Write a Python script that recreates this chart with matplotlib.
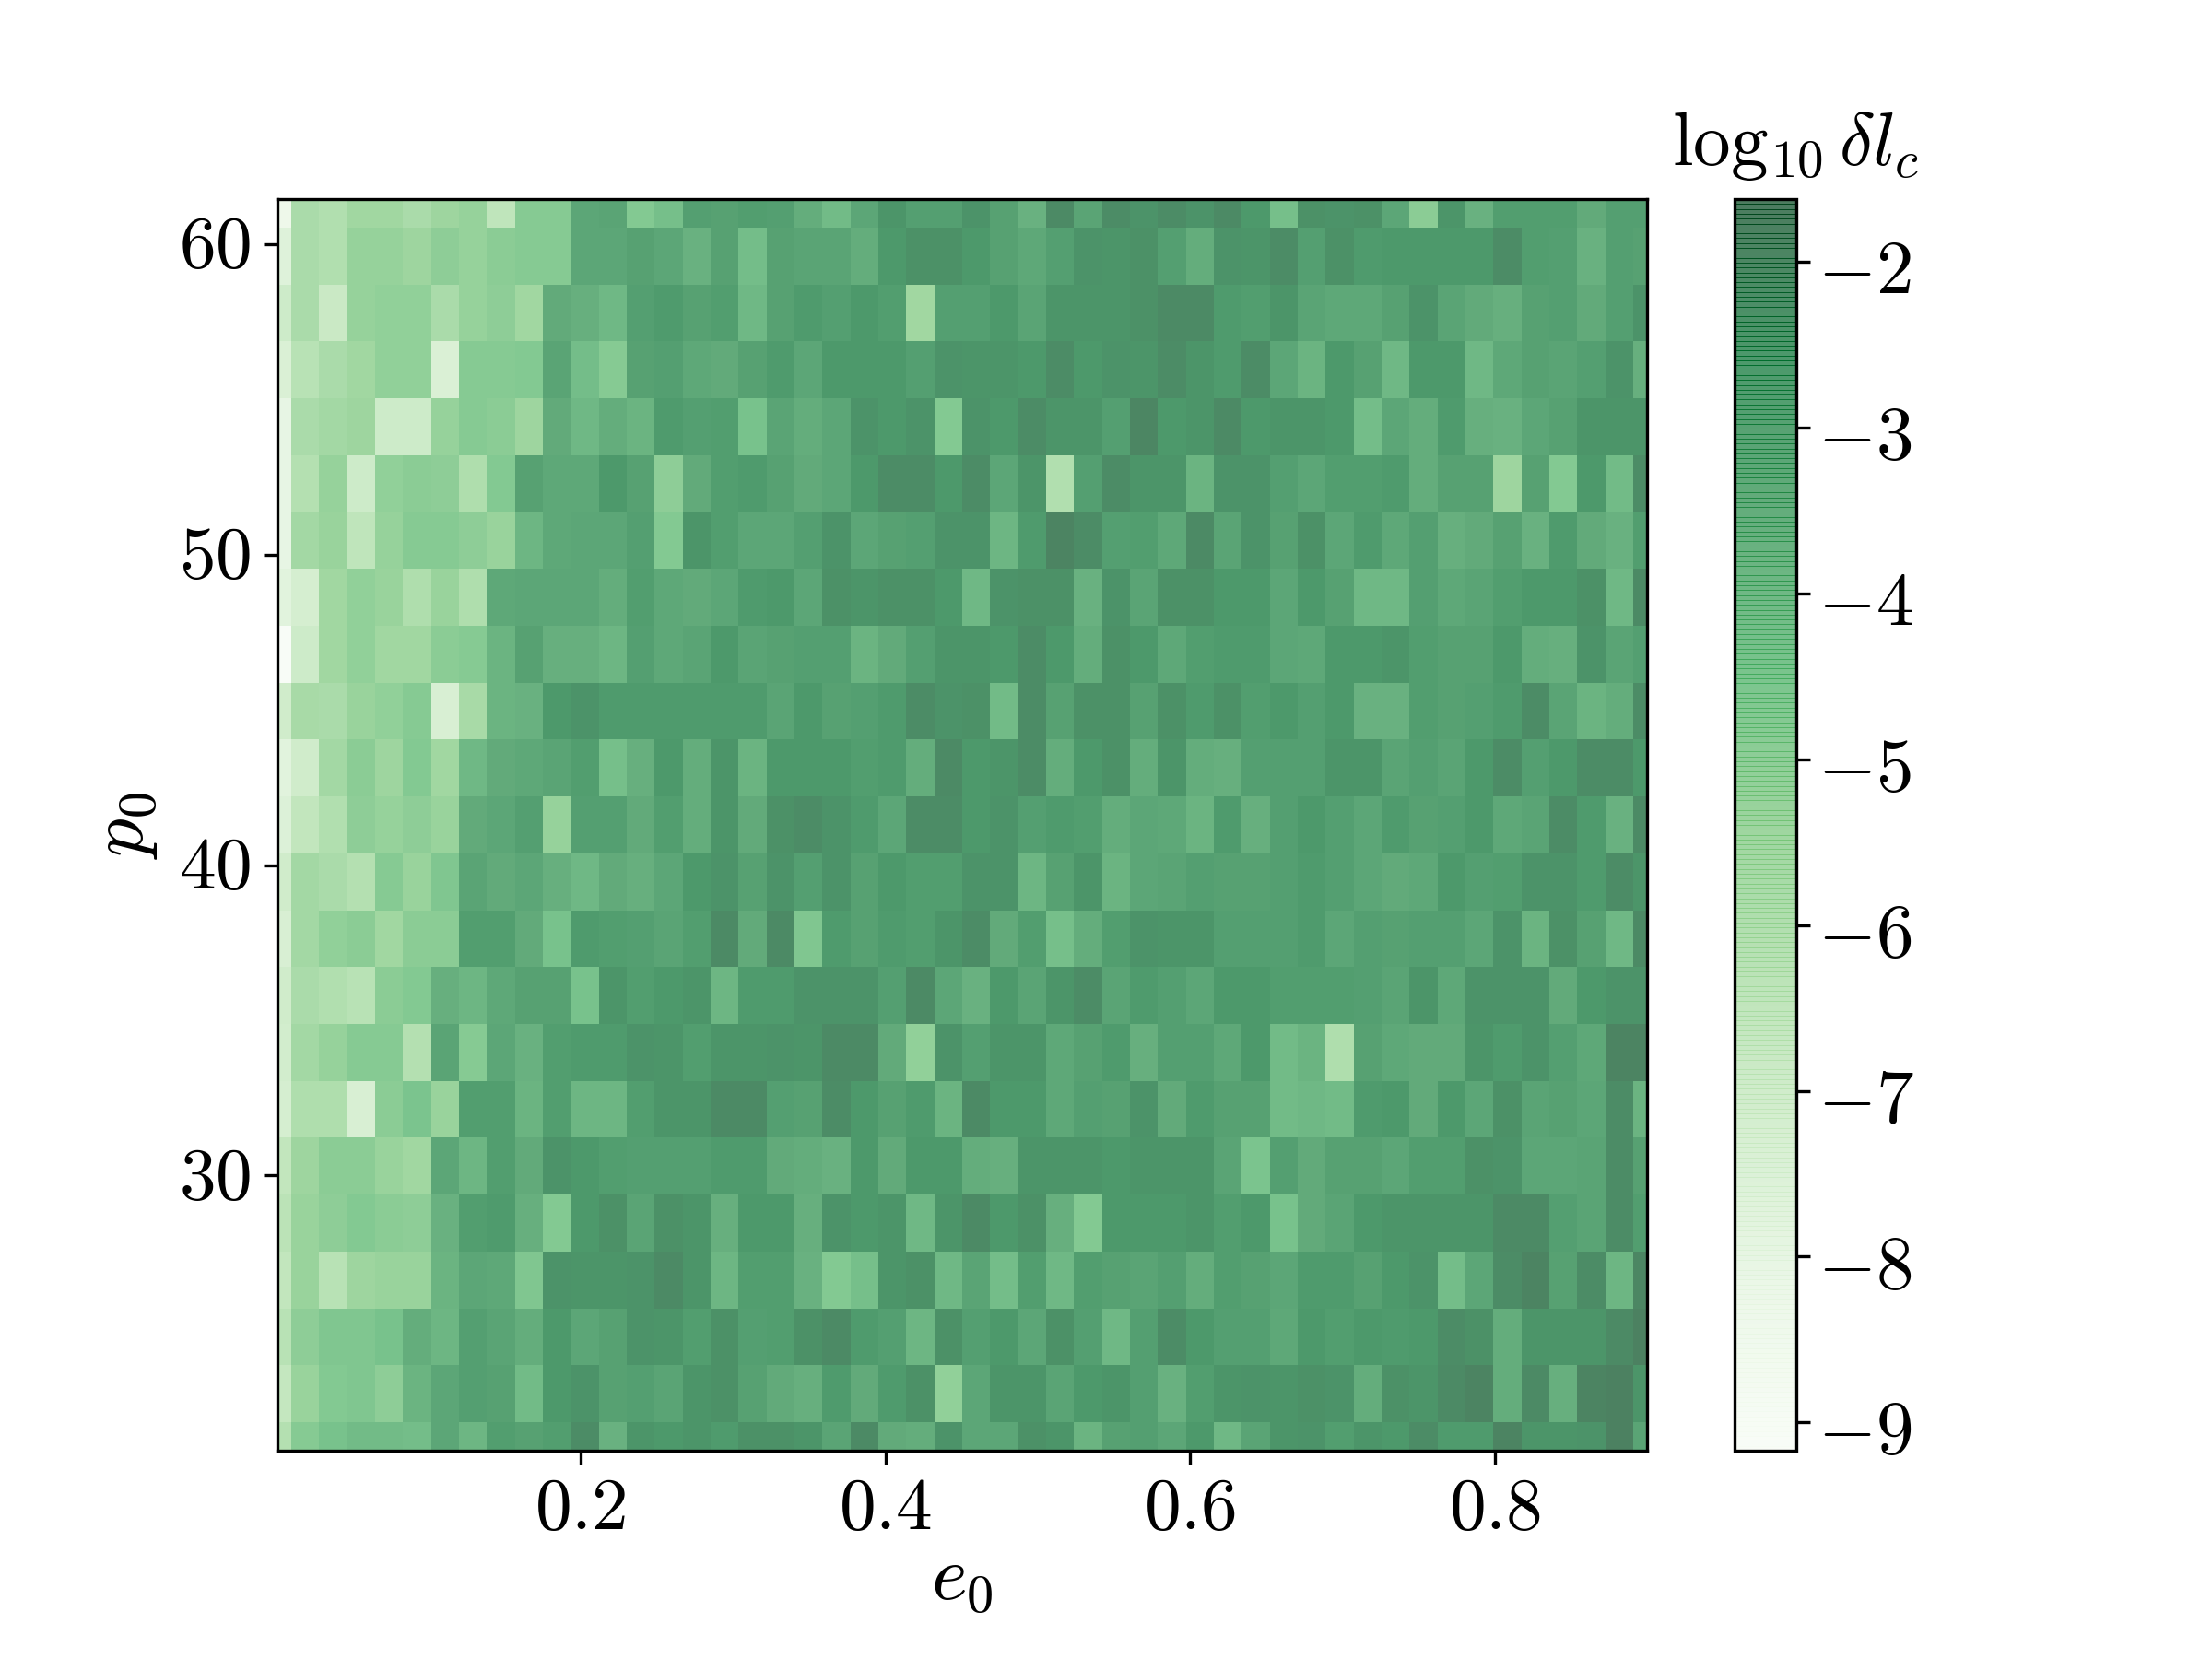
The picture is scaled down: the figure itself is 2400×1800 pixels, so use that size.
import numpy as np
import matplotlib
matplotlib.use("Agg")
import matplotlib.pyplot as plt
from matplotlib.transforms import ScaledTranslation

plt.rcParams['mathtext.fontset'] = 'cm'
plt.rcParams['font.family'] = 'cmr10'
plt.rcParams['axes.unicode_minus'] = False
plt.rcParams['axes.formatter.use_mathtext'] = True

## ejes de la grilla
e0_min, e0_max, n_e0 = 0.001, 0.9, 50
p0_min, p0_max, n_p0 = 21.14, 61.45, 23

e0_ticks = [0.2, 0.4, 0.6, 0.8]
e0_labels = [r"$0.2$", r"$0.4$", r"$0.6$", r"$0.8$"]
p0_ticks = [30, 40, 50, 60]
p0_labels = [r"$30$", r"$40$", r"$50$", r"$60$"]
cb_ticks = [-2, -3, -4, -5, -6, -7, -8, -9]
cb_labels = [r"$-2$", r"$-3$", r"$-4$", r"$-5$", r"$-6$", r"$-7$", r"$-8$", r"$-9$"]

## log10 delta l_c leido fila por fila, de arriba (p0 alto) hacia abajo
row00 = [-8.3,-5.8,-6.0,-5.5,-5.5,-5.8,-5.4,-5.2,-6.4,-4.8,-4.8,-3.2,-3.1,-4.7,-4.3,-2.9,-3.0, -2.8,-2.9,-3.5,-4.1,-3.2,-2.5,-2.9,-2.9,-2.4,-3.0,-3.7,-2.1,-3.1,-2.2,-2.4,-2.2, -2.4,-2.1,-2.6,-4.3,-2.3,-2.4,-2.3,-3.2,-4.9,-2.5,-3.7,-2.8,-2.8,-2.8,-3.4,-2.9,-2.9]
row01 = [-7.6,-5.8,-6.0,-5.2,-5.2,-5.4,-5.0,-5.2,-4.9,-4.8,-4.8,-3.2,-3.2,-3.0,-3.2,-3.7,-3.0, -4.2,-3.0,-3.1,-3.1,-3.5,-2.6,-2.3,-2.3,-2.6,-3.0,-3.3,-2.9,-2.4,-2.5,-2.3,-2.9, -3.5,-2.4,-2.5,-2.2,-2.9,-2.3,-2.7,-2.6,-2.6,-2.6,-2.6,-2.2,-2.8,-2.9,-3.7,-2.9,-3.0]
row02 = [-6.9,-5.8,-6.8,-5.2,-5.1,-5.1,-5.8,-5.2,-5.0,-5.5,-3.4,-3.6,-4.0,-2.9,-2.7,-3.0,-2.8, -4.0,-3.0,-2.7,-2.9,-2.6,-2.8,-5.5,-2.9,-2.9,-2.6,-3.1,-2.5,-2.5,-2.5,-2.3,-2.1, -2.1,-2.7,-2.8,-2.5,-3.1,-3.3,-3.3,-3.0,-2.4,-3.1,-3.4,-3.6,-3.0,-2.9,-3.4,-2.9,-2.4]
row03 = [-7.4,-6.2,-5.8,-5.5,-5.1,-5.1,-7.4,-4.8,-4.8,-4.7,-3.1,-4.2,-4.8,-3.0,-2.9,-3.3,-3.4, -3.0,-2.7,-3.2,-2.6,-2.6,-2.6,-2.9,-2.4,-2.5,-2.5,-2.6,-2.2,-2.6,-2.4,-2.5,-2.2, -2.5,-2.7,-2.2,-3.2,-3.8,-2.6,-3.0,-4.0,-2.6,-2.6,-4.0,-3.3,-3.0,-3.1,-2.9,-2.4,-3.6]
row04 = [-8.0,-5.8,-5.6,-5.4,-6.9,-6.9,-5.2,-4.8,-4.9,-5.4,-3.4,-4.0,-3.5,-3.8,-2.7,-2.9,-2.8, -4.4,-3.1,-3.5,-3.2,-2.4,-2.6,-2.4,-4.7,-2.4,-2.6,-2.2,-2.5,-2.5,-2.9,-2.0,-2.6, -2.5,-2.1,-2.6,-2.5,-2.5,-2.6,-4.2,-3.2,-3.5,-2.7,-3.6,-3.7,-3.2,-3.0,-2.5,-2.5,-2.5]
row05 = [-8.0,-6.1,-5.2,-6.9,-5.1,-4.9,-5.0,-5.9,-4.7,-3.0,-3.3,-3.3,-2.6,-3.0,-5.0,-3.4,-2.8, -2.7,-3.0,-3.4,-3.2,-2.6,-2.2,-2.2,-2.6,-2.2,-3.2,-2.5,-6.0,-2.9,-2.2,-2.5,-2.5, -3.8,-2.4,-2.4,-2.9,-3.2,-2.8,-2.8,-2.7,-3.5,-3.0,-3.0,-5.4,-3.0,-4.7,-2.6,-4.1,-2.2]
row06 = [-8.0,-5.6,-5.3,-6.4,-5.2,-4.8,-4.8,-5.0,-5.3,-3.9,-3.3,-3.2,-3.2,-2.9,-4.7,-2.5,-2.8, -3.2,-3.2,-2.9,-2.4,-3.2,-3.0,-2.9,-2.4,-2.4,-3.9,-2.7,-1.9,-2.2,-2.9,-2.8,-3.3, -2.1,-3.1,-2.4,-3.0,-2.3,-3.2,-2.7,-3.3,-2.9,-3.6,-3.4,-3.0,-3.7,-2.7,-3.4,-3.7,-2.8]
row07 = [-7.7,-7.2,-5.5,-5.1,-5.3,-5.9,-5.3,-5.9,-3.3,-3.2,-3.2,-3.2,-3.5,-2.8,-3.3,-3.4,-3.2, -2.7,-2.6,-3.2,-2.3,-2.5,-2.3,-2.3,-2.6,-4.0,-2.4,-2.3,-2.3,-3.7,-2.4,-3.1,-2.3, -2.3,-2.6,-2.6,-3.2,-2.6,-3.0,-4.0,-4.0,-2.9,-3.3,-3.1,-2.8,-2.6,-2.6,-2.3,-4.0,-2.1]
row08 = [-9.1,-6.9,-5.5,-5.1,-5.5,-5.5,-4.9,-4.8,-3.8,-3.0,-3.6,-3.6,-3.9,-2.9,-3.3,-3.1,-2.6, -3.1,-3.0,-2.9,-2.9,-3.8,-3.4,-2.9,-2.5,-2.5,-2.6,-2.2,-2.6,-3.5,-2.3,-2.6,-3.3, -2.8,-2.7,-2.7,-3.2,-3.3,-2.6,-2.6,-2.5,-2.8,-3.0,-3.0,-2.6,-3.5,-3.6,-2.4,-3.1,-2.9]
row09 = [-7.0,-5.7,-5.8,-5.3,-5.1,-4.8,-7.3,-5.7,-3.8,-3.7,-2.6,-2.4,-2.7,-2.7,-2.7,-2.7,-2.7, -2.7,-3.1,-2.6,-3.0,-2.9,-2.7,-2.2,-2.4,-2.3,-4.1,-2.2,-3.0,-2.3,-2.3,-3.0,-2.3, -2.7,-2.3,-2.8,-2.6,-2.9,-2.6,-3.7,-3.7,-2.8,-3.0,-2.9,-2.7,-2.2,-3.1,-3.8,-3.5,-2.2]
row10 = [-7.7,-7.0,-5.6,-4.9,-5.4,-4.7,-5.5,-4.0,-3.4,-3.3,-3.1,-2.8,-4.3,-3.6,-2.6,-3.5,-2.5, -3.8,-2.6,-2.6,-2.6,-2.8,-2.7,-3.5,-2.1,-2.6,-2.5,-2.2,-3.5,-2.6,-2.3,-3.5,-2.5, -3.5,-3.6,-2.9,-2.9,-2.9,-2.5,-2.5,-3.1,-2.9,-3.1,-2.6,-2.2,-2.9,-2.6,-2.2,-2.2,-2.6]
row11 = [-7.5,-6.5,-6.0,-5.0,-5.2,-5.0,-5.3,-3.4,-3.2,-2.9,-5.2,-2.9,-2.9,-3.4,-2.8,-3.5,-2.5, -3.4,-2.3,-2.2,-2.4,-2.7,-3.2,-2.2,-2.2,-2.6,-2.4,-2.9,-2.7,-2.8,-3.5,-3.2,-3.3, -3.8,-2.7,-3.6,-2.9,-2.6,-2.9,-3.2,-2.7,-3.0,-2.9,-2.6,-3.3,-3.1,-2.2,-2.7,-3.7,-2.1]
row12 = [-7.0,-5.6,-5.8,-6.1,-4.8,-5.3,-4.6,-3.1,-3.4,-3.2,-3.6,-4.0,-3.4,-3.6,-3.2,-2.6,-2.4, -3.0,-2.4,-2.9,-2.4,-3.0,-2.6,-2.8,-2.8,-2.4,-2.4,-3.9,-3.0,-2.5,-3.8,-3.2,-3.1, -2.9,-3.0,-3.0,-2.9,-2.7,-2.9,-3.2,-3.4,-3.3,-2.6,-2.9,-2.8,-2.4,-2.4,-2.7,-2.2,-2.5]
row13 = [-7.3,-5.6,-5.1,-4.9,-5.5,-4.9,-4.9,-2.8,-2.8,-3.4,-4.4,-2.7,-2.8,-2.9,-3.1,-2.8,-2.1, -3.4,-2.1,-4.6,-2.7,-3.0,-2.7,-2.8,-2.5,-2.2,-3.4,-2.8,-4.3,-3.5,-2.8,-2.4,-2.5, -2.5,-2.9,-2.9,-2.9,-2.7,-3.2,-2.9,-3.0,-2.9,-2.9,-3.2,-2.4,-3.8,-2.3,-3.0,-4.0,-2.1]
row14 = [-7.0,-5.8,-6.0,-6.2,-4.9,-4.7,-3.6,-3.9,-3.3,-3.0,-3.0,-4.4,-2.5,-2.8,-2.6,-2.5,-3.9, -2.7,-2.7,-2.4,-2.4,-2.4,-2.9,-2.1,-3.2,-3.7,-2.6,-3.1,-2.5,-2.2,-3.1,-2.7,-2.9, -3.2,-2.6,-2.6,-2.8,-2.8,-2.8,-2.9,-3.1,-2.5,-3.3,-2.4,-2.4,-2.4,-3.4,-2.6,-2.4,-2.4]
row15 = [-7.1,-5.6,-5.2,-4.8,-4.8,-6.1,-3.1,-4.8,-3.2,-3.7,-2.8,-2.7,-2.7,-2.4,-2.5,-2.8,-2.5, -2.5,-2.4,-2.5,-2.1,-2.1,-3.4,-5.1,-2.4,-2.9,-2.5,-2.5,-3.3,-3.0,-2.7,-3.6,-2.9, -2.9,-3.3,-2.6,-4.1,-3.8,-5.9,-3.0,-3.3,-3.4,-3.4,-2.5,-2.7,-2.4,-2.9,-3.3,-1.9,-1.9]
row16 = [-7.2,-5.9,-5.9,-7.3,-4.9,-4.5,-5.3,-2.8,-2.8,-3.8,-2.8,-3.9,-3.9,-2.8,-2.5,-2.5,-2.1, -2.1,-2.9,-3.0,-2.2,-2.6,-3.0,-2.7,-3.8,-2.1,-2.6,-2.6,-3.3,-2.9,-3.0,-2.4,-3.4, -2.7,-3.0,-3.0,-4.1,-4.0,-4.1,-2.7,-2.6,-3.4,-2.6,-3.2,-2.3,-3.1,-3.0,-3.2,-2.2,-3.8]
row17 = [-6.5,-5.4,-4.9,-4.9,-5.3,-5.5,-3.2,-3.9,-2.8,-3.4,-2.4,-2.6,-2.8,-2.9,-2.9,-2.9,-2.7, -2.7,-3.4,-3.5,-3.7,-2.6,-3.4,-2.6,-2.6,-3.5,-3.6,-2.5,-2.5,-2.5,-2.6,-2.5,-2.5, -2.5,-3.1,-4.5,-2.9,-3.4,-3.0,-3.0,-3.2,-2.8,-2.8,-2.3,-2.4,-3.2,-3.2,-3.1,-2.2,-3.0]
row18 = [-6.3,-5.3,-5.0,-4.7,-4.9,-5.0,-3.7,-2.8,-2.7,-3.6,-4.7,-2.6,-2.3,-3.1,-2.3,-2.5,-3.6, -2.6,-2.6,-3.6,-2.4,-2.6,-2.5,-4.0,-2.5,-2.1,-2.6,-2.3,-3.6,-4.7,-2.6,-2.6,-2.6, -2.5,-2.8,-2.6,-4.4,-3.4,-3.1,-2.6,-2.5,-2.5,-2.5,-2.5,-2.1,-2.1,-2.9,-3.1,-2.2,-2.8]
row19 = [-6.5,-5.3,-6.2,-5.4,-5.3,-5.3,-3.8,-3.2,-3.3,-4.6,-2.4,-2.5,-2.5,-2.4,-2.1,-2.5,-3.9, -2.8,-2.8,-3.7,-4.7,-4.3,-2.5,-2.3,-4.0,-3.1,-4.2,-2.8,-4.0,-2.8,-3.0,-3.1,-2.9, -3.5,-2.8,-3.0,-3.2,-2.7,-2.7,-3.0,-2.6,-2.4,-4.2,-3.2,-2.2,-1.9,-3.0,-2.2,-3.9,-2.0]
row20 = [-6.2,-5.0,-4.6,-4.6,-4.4,-3.5,-3.9,-2.9,-3.1,-3.5,-2.6,-3.2,-3.0,-2.4,-2.5,-2.8,-2.3, -2.9,-2.8,-2.3,-2.1,-2.7,-2.9,-3.9,-2.3,-2.9,-2.6,-3.2,-2.3,-2.9,-4.0,-2.9,-2.2, -2.6,-2.9,-2.9,-3.3,-2.6,-2.8,-2.6,-2.7,-2.6,-2.2,-2.3,-3.5,-2.5,-2.5,-2.5,-2.1,-1.8]
row21 = [-6.6,-5.3,-4.7,-4.6,-5.0,-3.8,-3.2,-2.9,-3.0,-4.1,-2.6,-2.4,-3.0,-2.9,-3.1,-2.5,-2.3, -3.0,-3.4,-3.6,-2.7,-3.4,-2.7,-2.3,-5.1,-3.2,-2.5,-2.5,-3.1,-2.6,-2.5,-2.9,-3.7, -2.8,-2.5,-2.4,-2.5,-2.3,-2.4,-3.5,-2.3,-2.5,-2.1,-1.9,-3.5,-2.1,-3.6,-1.9,-1.8,-2.5]
row22 = [-6.1,-4.8,-4.4,-4.1,-4.1,-4.2,-3.2,-3.9,-2.8,-3.0,-2.8,-2.2,-3.7,-2.5,-2.6,-2.5,-2.7, -2.3,-2.3,-2.5,-3.1,-2.1,-3.4,-3.5,-2.4,-3.2,-3.2,-2.3,-2.5,-3.8,-3.0,-2.9,-3.2, -2.6,-4.0,-3.1,-2.5,-2.4,-2.8,-2.5,-2.6,-2.2,-2.7,-2.7,-1.9,-2.5,-2.5,-2.4,-1.8,-3.1]

rows = [row00, row01, row02, row03, row04, row05, row06, row07, row08, row09, row10, row11,
        row12, row13, row14, row15, row16, row17, row18, row19, row20, row21, row22]

e0 = np.linspace(e0_min, e0_max, n_e0)
p0 = np.linspace(p0_max, p0_min, n_p0)
log_dl = np.array(rows)

fig = plt.figure(figsize=(8, 6), dpi=300)
ax = fig.add_axes([0.1254, 0.1256, 0.6192, 0.7544])
cax = fig.add_axes([0.7842, 0.1256, 0.0279, 0.7544])

mesh = ax.pcolormesh(e0, p0, log_dl, shading='nearest', cmap='Greens', alpha=0.7,
                     vmin=-9.17, vmax=-1.62)
ax.set_xlim(e0_min, e0_max)
ax.set_ylim(p0_min, p0_max)

ax.set_xticks(e0_ticks, e0_labels, fontsize=19)
ax.set_yticks(p0_ticks, p0_labels, fontsize=19)
ax.tick_params(axis='y', pad=3.5)
ax.set_xlabel(r"$e_0$", fontsize=20, labelpad=1)
ax.set_ylabel(r"$p_0$", fontsize=20, labelpad=5)

## las rayas de la barra salen de solapar los bordes con alpha
cb = fig.colorbar(mesh, cax=cax)
cb.solids.set_edgecolor('face')
cb.solids.set_linewidth(0.12)
cb.solids.set_rasterized(False)
cb.set_ticks(cb_ticks, labels=cb_labels, fontsize=19.5)
cax.tick_params(axis='y', pad=2)
cax.set_title(r"$\log_{10}\delta l_c$", fontsize=19.5, pad=9, x=0.98)

## pequeños corrimientos verticales de las etiquetas
bajar = ScaledTranslation(0, -1.3 / 72, fig.dpi_scale_trans)
for label in cax.get_yticklabels():
    label.set_transform(label.get_transform() + bajar)
subir = ScaledTranslation(0, 0.6 / 72, fig.dpi_scale_trans)
for label in ax.get_yticklabels():
    label.set_transform(label.get_transform() + subir)

fig.savefig("out.png", dpi=300)
